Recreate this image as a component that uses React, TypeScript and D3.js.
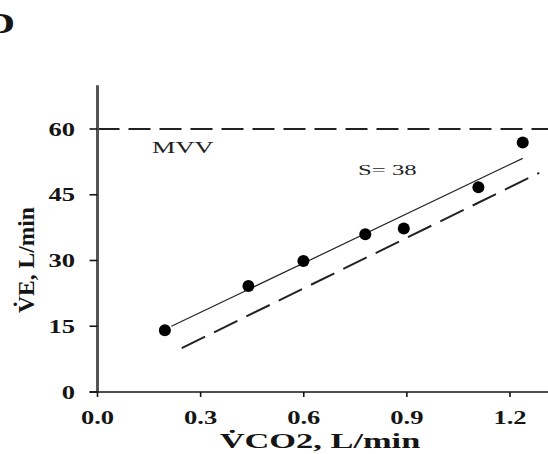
import React from "react";
import * as d3 from "d3";

// Observations (V̇CO2, V̇E)
const vco2 = [0.196, 0.439, 0.599, 0.779, 0.891, 1.108, 1.237];
const ve = [14.1, 24.2, 29.9, 36.0, 37.3, 46.7, 56.9];

// Fitted regression line (solid) endpoints
const fitX = [0.215, 1.237];
const fitY = [15.0, 53.3];

// Reference line (dashed) endpoints
const refX = [0.245, 1.285];
const refY = [10.0, 50.0];

const mvv = 60;
const xTicks = [0.0, 0.3, 0.6, 0.9, 1.2];
const yTicks = [0, 15, 30, 45, 60];
const xLabel = "V\u0307CO2, L/min";
const yLabel = "V\u0307E, L/min";
const slopeLabel = "S= 38";
const mvvLabel = "MVV";
const panelLabel = "D";

const W = 548;
const H = 454;
const FONT = "'Liberation Serif', 'DejaVu Serif', serif";
const INK = "#151515";

function SText(props: {
  x: number; y: number; sx?: number; anchor?: string; size: number;
  weight?: string | number; rotate?: number; fill?: string; children: React.ReactNode;
}) {
  const { x, y, sx = 1.4, anchor = "start", size, weight = "bold", rotate = 0, fill = INK } = props;
  return (
    <text
      transform={`translate(${x},${y}) scale(${sx},1)${rotate ? ` rotate(${rotate})` : ""}`}
      textAnchor={anchor}
      fontFamily={FONT}
      fontSize={size}
      fontWeight={weight}
      fill={fill}
    >
      {props.children}
    </text>
  );
}

export default function App() {
  const x = d3.scaleLinear().domain([0, 1.2]).range([97.5, 510]);
  const y = d3.scaleLinear().domain([0, 60]).range([392, 129]);
  const line = d3.line<[number, number]>().x((d) => x(d[0])).y((d) => y(d[1]));
  const fitPts = fitX.map((v, i) => [v, fitY[i]] as [number, number]);
  const refPts = refX.map((v, i) => [v, refY[i]] as [number, number]);
  const yAxisX = x(0);
  const yTop = y(70);

  return (
    <div style={{ position: "fixed", left: 0, top: 0, width: W, height: H, background: "#fff" }}>
      <svg width={W} height={H} viewBox={`0 0 ${W} ${H}`} style={{ display: "block" }}>
        <rect x={0} y={0} width={W} height={H} fill="#fff" />
        {/* panel label */}
        <SText x={15} y={33} anchor="end" size={30} sx={1.4}>{panelLabel}</SText>

        {/* MVV line */}
        <line x1={yAxisX} x2={W} y1={y(mvv)} y2={y(mvv)} stroke="#222" strokeWidth={1.8} strokeDasharray="22 9" />

        {/* y axis */}
        <line x1={yAxisX} x2={yAxisX} y1={yTop} y2={y(0)} stroke="#555" strokeWidth={3} />
        {yTicks.map((t) => (
          <g key={"yt" + t}>
            <line x1={yAxisX - 8} x2={yAxisX} y1={y(t)} y2={y(t)} stroke={INK} strokeWidth={1.6} />
            <SText x={75} y={y(t) + 6.5} anchor="end" size={19} sx={1.4}>{String(t)}</SText>
          </g>
        ))}

        {/* x axis */}
        <line x1={yAxisX - 8} x2={W} y1={y(0)} y2={y(0)} stroke={INK} strokeWidth={1.6} />
        {xTicks.map((t) => (
          <g key={"xt" + t}>
            <line x1={x(t)} x2={x(t)} y1={y(0)} y2={y(0) + 5} stroke={INK} strokeWidth={1.6} />
            <SText x={x(t)} y={424} anchor="middle" size={19} sx={1.4}>{t.toFixed(1)}</SText>
          </g>
        ))}

        {/* axis titles */}
        <SText x={320} y={448} anchor="middle" size={21.5} sx={1.6}>{xLabel}</SText>
        <SText x={34} y={260} anchor="middle" size={23.5} sx={1} rotate={-90}>{yLabel}</SText>

        {/* annotations */}
        <SText x={152} y={153} size={17} sx={1.55} weight="normal" fill="#222">{mvvLabel}</SText>
        <SText x={358} y={175} size={15} sx={1.65} weight="normal" fill="#222">{slopeLabel}</SText>

        {/* regression lines */}
        <path d={line(fitPts) || ""} fill="none" stroke="#222" strokeWidth={1.2} />
        <path d={line(refPts) || ""} fill="none" stroke="#222" strokeWidth={2} strokeDasharray="26 10" />

        {/* points */}
        {vco2.map((v, i) => (
          <circle key={"p" + i} cx={x(v)} cy={y(ve[i])} r={6} fill="#000" />
        ))}
      </svg>
    </div>
  );
}
